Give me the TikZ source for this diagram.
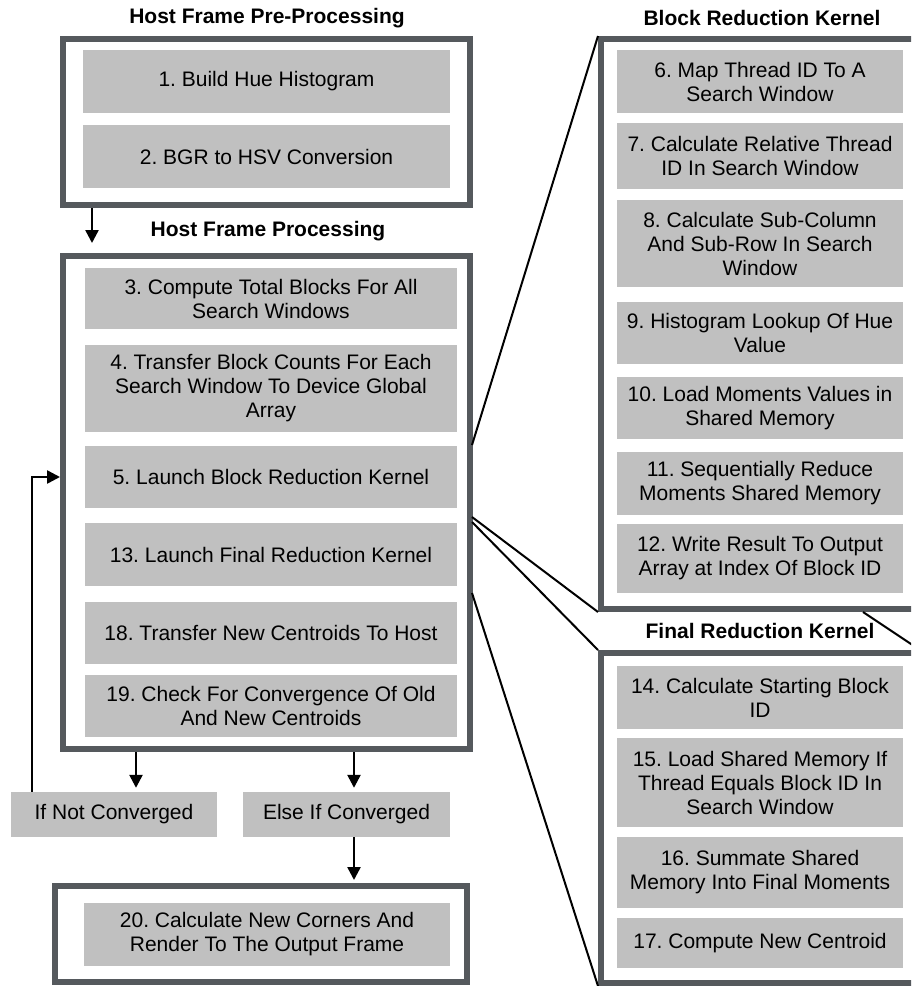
\documentclass[tikz,border=0pt]{standalone}
\usepackage{fontspec}
\setmainfont{Liberation Sans}
\usetikzlibrary{arrows.meta}
\frenchspacing
\definecolor{boxgray}{RGB}{192,192,192}
\definecolor{framegray}{RGB}{85,89,93}
\tikzset{
  stepbox/.style={fill=boxgray, align=center, inner sep=0pt, font=\fontsize{21}{24}\selectfont},
  frame/.style={draw=framegray, line width=6pt, inner sep=0pt},
  title/.style={font=\fontsize{21}{24}\selectfont\bfseries},
  flow/.style={-{Triangle[length=13pt,width=13pt]}, line width=2.5pt},
  zoomline/.style={line width=2pt},
}
\begin{document}
\begin{tikzpicture}[x=1pt,y=-1pt]
\useasboundingbox (0,0) rectangle (911,986);
\clip (0,0) rectangle (911,986);
% frames
\node[frame, minimum width=407pt, minimum height=166pt] (pre) at (266.5,122){};
\node[frame, minimum width=407pt, minimum height=493pt] (proc) at (266.5,502.5){};
\node[frame, minimum width=412pt, minimum height=96pt] (out) at (261,934){};
\node[frame, minimum width=339pt, minimum height=570pt] (blockk) at (770.5,324){};
\node[frame, minimum width=339pt, minimum height=330pt] (finalk) at (770.5,818){};
% titles
\node[title] (tpre) at (267,18){Host Frame Pre-Processing};
\node[title] (tproc) at (268,231){Host Frame Processing};
\node[title] (tblock) at (762,18){Block Reduction Kernel};
\node[title] (tfinal) at (760,631){Final Reduction Kernel};
% host pre-processing
\node[stepbox, minimum width=367pt, minimum height=63pt] (s1) at (266.5,81.5){1. Build Hue Histogram};
\node[stepbox, minimum width=367pt, minimum height=63pt] (s2) at (266.5,156.5){2. BGR to HSV Conversion};
% host processing
\node[stepbox, minimum width=372pt, minimum height=61pt] (s3) at (271,298.5){3. Compute Total Blocks For All\\Search Windows};
\node[stepbox, minimum width=372pt, minimum height=87pt] (s4) at (271,388.5){4. Transfer Block Counts For Each\\Search Window To Device Global\\Array};
\node[stepbox, minimum width=372pt, minimum height=62pt] (s5) at (271,477){5. Launch Block Reduction Kernel};
\node[stepbox, minimum width=372pt, minimum height=63pt] (s13) at (271,554.5){13. Launch Final Reduction Kernel};
\node[stepbox, minimum width=372pt, minimum height=62pt] (s18) at (271,633){18. Transfer New Centroids To Host};
\node[stepbox, minimum width=372pt, minimum height=62pt] (s19) at (271,706){19. Check For Convergence Of Old\\And New Centroids};
\node[stepbox, minimum width=206pt, minimum height=45pt] (notconv) at (114,814.5){If Not Converged};
\node[stepbox, minimum width=207pt, minimum height=45pt] (conv) at (346.5,814.5){Else If Converged};
\node[stepbox, minimum width=366pt, minimum height=63pt] (s20) at (267,934.5){20. Calculate New Corners And\\Render To The Output Frame};
% block reduction kernel
\node[stepbox, minimum width=286pt, minimum height=63pt] (s6) at (760,81.5){6. Map Thread ID To A\\Search Window};
\node[stepbox, minimum width=286pt, minimum height=66pt] (s7) at (760,156){7. Calculate Relative Thread\\ID In Search Window};
\node[stepbox, minimum width=286pt, minimum height=87pt] (s8) at (760,243.5){8. Calculate Sub-Column\\And Sub-Row In Search\\Window};
\node[stepbox, minimum width=286pt, minimum height=62pt] (s9) at (760,333){9. Histogram Lookup Of Hue\\Value};
\node[stepbox, minimum width=286pt, minimum height=62pt] (s10) at (760,408){10. Load Moments Values in\\Shared Memory};
\node[stepbox, minimum width=286pt, minimum height=63pt] (s11) at (760,483.5){11. Sequentially Reduce\\Moments Shared Memory};
\node[stepbox, minimum width=286pt, minimum height=69pt] (s12) at (760,558.5){12. Write Result To Output\\Array at Index Of Block ID};
% final reduction kernel
\node[stepbox, minimum width=286pt, minimum height=63pt] (s14) at (760,697.5){14. Calculate Starting Block\\ID};
\node[stepbox, minimum width=286pt, minimum height=89pt] (s15) at (760,782.5){15. Load Shared Memory If\\Thread Equals Block ID In\\Search Window};
\node[stepbox, minimum width=286pt, minimum height=71pt] (s16) at (760,872.5){16. Summate Shared\\Memory Into Final Moments};
\node[stepbox, minimum width=286pt, minimum height=50pt] (s17) at (760,943){17. Compute New Centroid};
% arrows
\coordinate (a1) at ([xshift=32pt]pre.south west);
\coordinate (nc) at ([xshift=22pt]notconv.north);
\coordinate (ec) at ([xshift=7.5pt]conv.north);
\draw[flow, shorten >=10pt] (a1) -- (a1 |- proc.north);
\draw[flow, shorten >=4pt] (nc |- proc.south) -- (nc);
\draw[flow, shorten >=4pt] (ec |- proc.south) -- (ec);
\draw[flow, shorten >=3pt] (ec |- conv.south) -- (ec |- out.north);
\draw[flow] ([xshift=21pt]notconv.north west) |- (proc.west |- s5.west);
% zoom lines
\coordinate (z1) at (472,445);
\coordinate (z2) at (472,517);
\coordinate (z3) at (472,522);
\coordinate (z4) at (472,593);
\coordinate (z5) at (863,612);
\coordinate (z6) at (920,650);
\draw[zoomline] (z1) -- (blockk.north west);
\draw[zoomline] (z2) -- (blockk.south west);
\draw[zoomline] (z3) -- (finalk.north west);
\draw[zoomline] (z4) -- (finalk.south west);
\draw[zoomline] (z5) -- (z6);
\end{tikzpicture}
\end{document}
